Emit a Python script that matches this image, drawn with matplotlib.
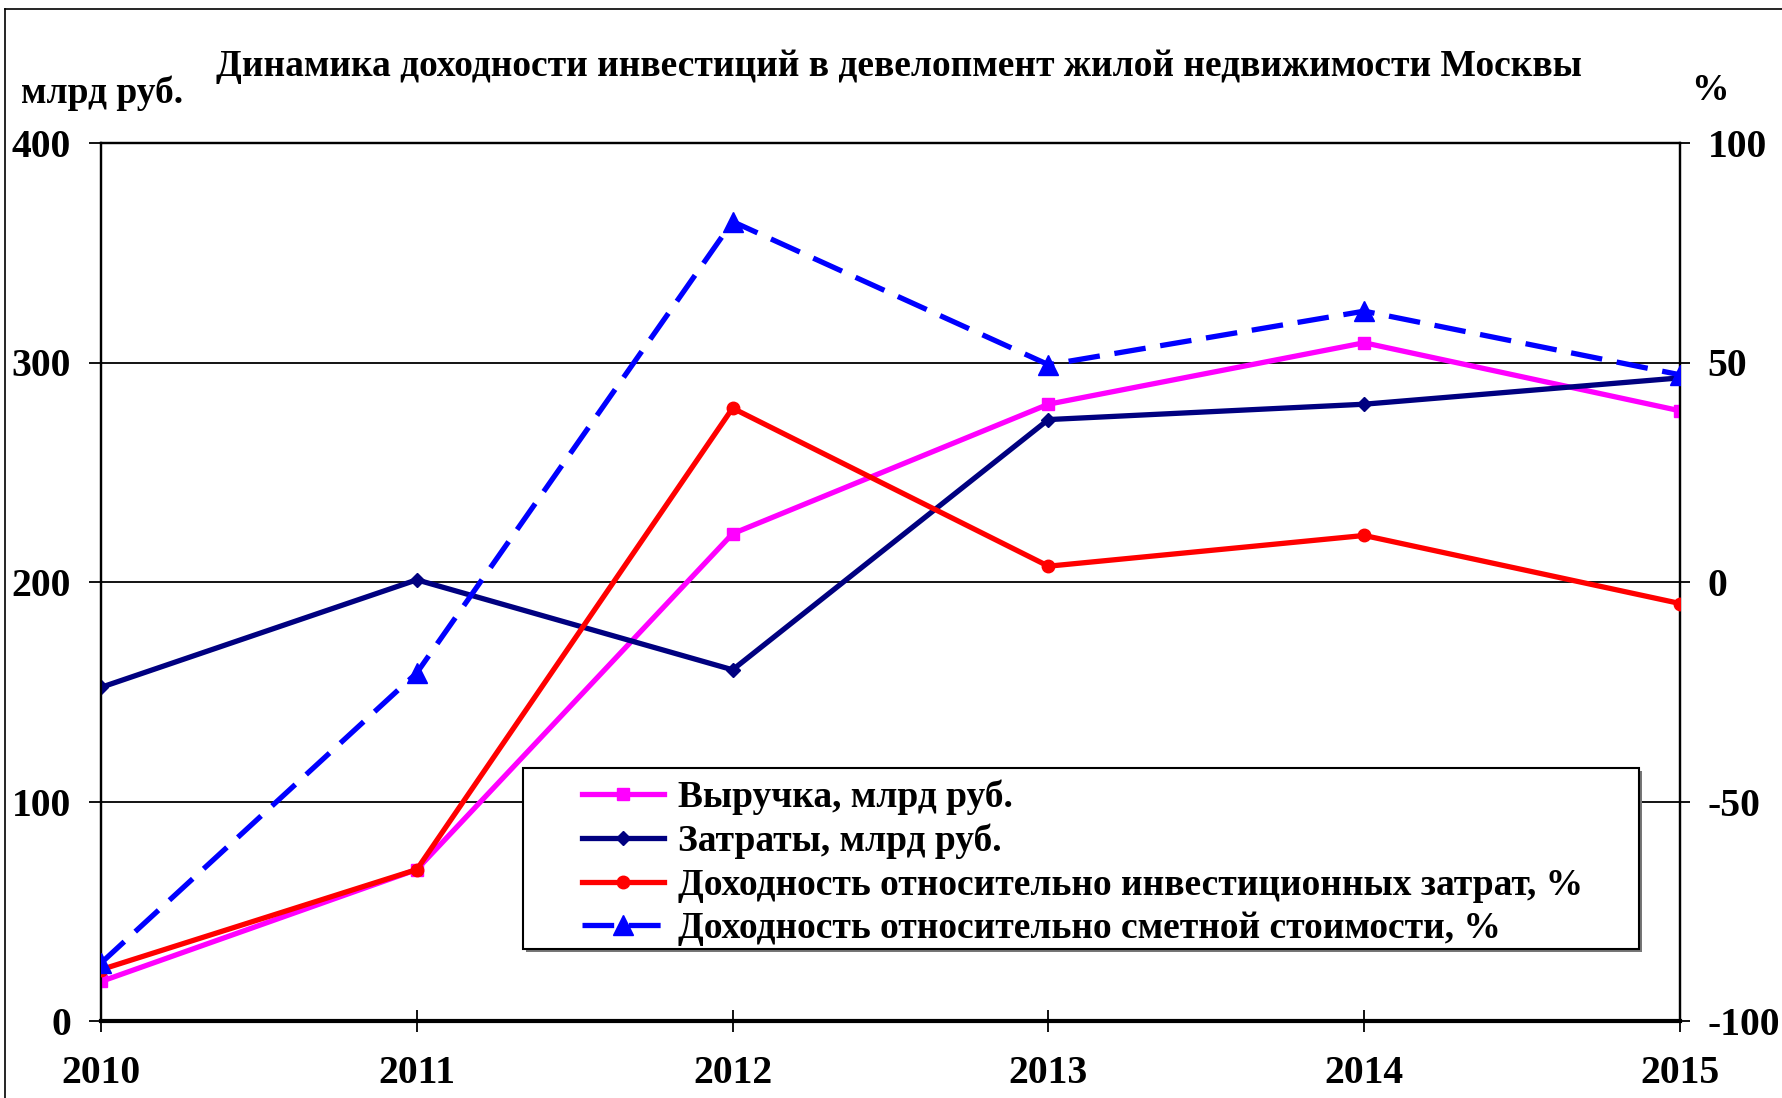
import matplotlib
matplotlib.use("Agg")
import matplotlib.pyplot as plt
from matplotlib.lines import Line2D
from matplotlib.patches import Rectangle

# data
years     = [2010, 2011, 2012, 2013, 2014, 2015]
revenue   = [18, 69, 222, 281, 309, 278]          # млрд руб.
costs     = [152, 201, 160, 274, 281, 293]        # млрд руб.
yield_inv = [-88.3, -65.5, 39.6, 3.6, 10.6, -4.9]  # %
yield_est = [-86.8, -20.7, 82.1, 49.5, 61.7, 47.2] # %

left_ticks  = [0, 100, 200, 300, 400]
right_ticks = [-100, -50, 0, 50, 100]

TITLE   = "Динамика доходности инвестиций в девелопмент жилой недвижимости Москвы"
LABELS  = ["Выручка, млрд руб.",
           "Затраты, млрд руб.",
           "Доходность относительно инвестиционных затрат, %",
           "Доходность относительно сметной стоимости, %"]

plt.rcParams["font.family"] = ["Liberation Serif", "DejaVu Serif"]
plt.rcParams["font.weight"] = "bold"
plt.rcParams["axes.unicode_minus"] = False
FS_TICK = 28.5
FS_TEXT = 27

W, H = 1782, 1098
fig = plt.figure(figsize=(W / 100, H / 100), dpi=100)

# outer frame (top and left edges only visible)
fig.add_artist(Line2D([5 / W, 5 / W], [0, 1 - 9 / H], transform=fig.transFigure,
                      color="black", lw=1.2))
fig.add_artist(Line2D([5 / W, 1], [1 - 9 / H, 1 - 9 / H], transform=fig.transFigure,
                      color="black", lw=1.2))

ax = fig.add_axes([101 / W, 1 - 1021 / H, 1579 / W, 878 / H])
ax2 = ax.twinx()

lw = 3.8
l1, = ax.plot(years, revenue, color="#FF00FF", lw=lw, marker="s", ms=9, zorder=3)
l2, = ax.plot(years, costs, color="#000080", lw=lw, marker="D", ms=7, zorder=3)
l3, = ax2.plot(years, yield_inv, color="#FF0000", lw=lw, marker="o", ms=9, zorder=3)
l4, = ax2.plot(years, yield_est, color="#0000FF", lw=lw, marker="^", ms=14,
               dashes=(6, 2.8), zorder=3)

ax.set_xlim(years[0], years[-1])
ax.set_ylim(0, 400)
ax2.set_ylim(-100, 100)
ax.set_xticks(years)
ax.set_yticks(left_ticks)
ax2.set_yticks(right_ticks)

for y in left_ticks[1:-1]:
    ax.axhline(y, color="black", lw=1.3, zorder=1)

for s in ["top", "left", "right"]:
    ax.spines[s].set_linewidth(1.6)
    ax2.spines[s].set_linewidth(1.6)
ax.spines["bottom"].set_linewidth(3)
ax2.spines["bottom"].set_visible(False)

ax.tick_params(axis="x", direction="inout", length=16.5, width=1.3, pad=16,
               labelsize=FS_TICK)
ax.tick_params(axis="y", direction="out", length=8.6, width=1.3, pad=13,
               labelsize=FS_TICK)
ax2.tick_params(axis="y", direction="out", length=7.5, width=1.3, pad=12.5,
                labelsize=FS_TICK)
for lab in ax.get_xticklabels() + ax.get_yticklabels() + ax2.get_yticklabels():
    lab.set_fontweight("bold")

fig.text(899 / W, 1 - 67 / H, TITLE, ha="center", va="center", fontsize=FS_TEXT)
fig.text(102 / W, 1 - 93 / H, "млрд руб.", ha="center", va="center", fontsize=FS_TEXT)
fig.text(1710 / W, 1 - 90 / H, "%", ha="center", va="center", fontsize=FS_TEXT)

# legend box with a light shadow
ax2.add_patch(Rectangle((0.269, 0.079), 0.707, 0.206, transform=ax2.transAxes,
                        facecolor="#777777", edgecolor="none", zorder=8,
                        clip_on=False))
ax2.add_patch(Rectangle((0.267, 0.082), 0.707, 0.206, transform=ax2.transAxes,
                        facecolor="white", edgecolor="black", lw=1.5, zorder=9,
                        clip_on=False))

leg = ax2.legend([l1, l2, l3, l4], LABELS, loc="upper left",
                 bbox_to_anchor=(0.3046, 0.275),
                 fontsize=FS_TEXT, numpoints=1, handlelength=2.2,
                 handletextpad=0.35, labelspacing=0.23, borderpad=0,
                 borderaxespad=0, frameon=False)
leg.set_zorder(10)
for t in leg.get_texts():
    t.set_fontweight("bold")

fig.savefig("out.png", dpi=100)
